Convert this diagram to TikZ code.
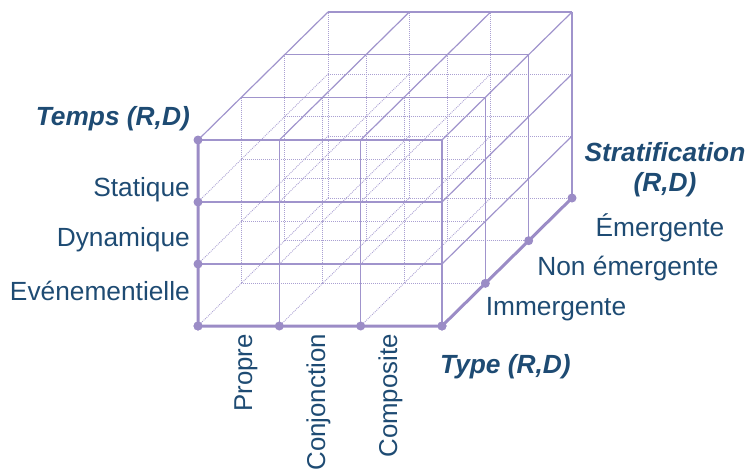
\documentclass[tikz,border=0pt]{standalone}
\usepackage{fontspec}
\setmainfont{Liberation Sans}
\definecolor{cubeline}{RGB}{160,148,204}
\definecolor{cubehid}{RGB}{170,160,210}
\definecolor{axiscol}{RGB}{155,140,198}
\definecolor{txt}{RGB}{30,75,115}
\begin{document}
\begin{tikzpicture}[x=1pt,y=-1pt,
  surf/.style={draw=cubeline,line width=1.2pt},
  hid/.style={draw=cubehid,line width=0.9pt,dash pattern=on 0.9pt off 1.1pt},
  axisline/.style={draw=axiscol,line width=3pt,line cap=round},
  axisdot/.style={circle,fill=axiscol,inner sep=0pt,minimum size=9pt},
  lab/.style={text=txt,font=\fontsize{26.3}{30}\selectfont,inner sep=0pt},
  vlab/.style={text=txt,font=\fontsize{25.8}{30}\selectfont,inner sep=0pt},
  title/.style={lab,font=\fontsize{26.3}{30}\selectfont\bfseries\itshape}]
\useasboundingbox (0,0) rectangle (747,472);
% grid points
\foreach \i in {0,...,3}{\foreach \j in {0,...,3}{\foreach \k in {0,...,3}{
  \coordinate (p-\i-\j-\k) at ({198+\i*81.333+\k*43.333},{326-\j*62-\k*42.667});
}}}
% hidden lines first
\foreach \j in {0,...,3}{\foreach \k in {0,...,3}{
  \ifnum\k=0 \else\ifnum\j=3 \else \draw[hid] (p-0-\j-\k) -- (p-3-\j-\k);\fi\fi
}}
\foreach \i in {0,...,3}{\foreach \k in {0,...,3}{
  \ifnum\k=0 \else\ifnum\i=3 \else \draw[hid] (p-\i-0-\k) -- (p-\i-3-\k);\fi\fi
}}
\foreach \i in {0,...,3}{\foreach \j in {0,...,3}{
  \ifnum\j=3 \else\ifnum\i=3 \else \draw[hid] (p-\i-\j-0) -- (p-\i-\j-3);\fi\fi
}}
% visible surface lines
\foreach \j in {0,...,3}{\foreach \k in {0,...,3}{
  \ifnum\k=0 \draw[surf] (p-0-\j-\k) -- (p-3-\j-\k);\else\ifnum\j=3 \draw[surf] (p-0-\j-\k) -- (p-3-\j-\k);\fi\fi
}}
\foreach \i in {0,...,3}{\foreach \k in {0,...,3}{
  \ifnum\k=0 \draw[surf] (p-\i-0-\k) -- (p-\i-3-\k);\else\ifnum\i=3 \draw[surf] (p-\i-0-\k) -- (p-\i-3-\k);\fi\fi
}}
\foreach \i in {0,...,3}{\foreach \j in {0,...,3}{
  \ifnum\j=3 \draw[surf] (p-\i-\j-0) -- (p-\i-\j-3);\else\ifnum\i=3 \draw[surf] (p-\i-\j-0) -- (p-\i-\j-3);\fi\fi
}}
% axes
\draw[axisline] (p-0-3-0) -- (p-0-0-0) -- (p-3-0-0) -- (p-3-0-3);
\foreach \n in {0,...,3}{
  \node[axisdot] (dt\n) at (p-0-\n-0) {};
  \node[axisdot] (dx\n) at (p-\n-0-0) {};
  \node[axisdot] (dz\n) at (p-3-0-\n) {};
}
% labels
\node[title,anchor=base east] (temps) at (190,125) {Temps (R,D)};
\node[lab,anchor=base east] (stat) at (190,196.7) {Statique};
\node[lab,anchor=base east] (dyn) at (190,246.7) {Dynamique};
\node[lab,anchor=base east] (evt) at (190,300.7) {Evénementielle};
\node[title,anchor=base] (strat) at (665,161.7) {Stratification};
\node[title,anchor=base] (stratrd) at (665,191.5) {(R,D)};
\node[lab,anchor=base] (emer) at (660,236) {Émergente};
\node[lab,anchor=base] (nonem) at (628,275.7) {Non émergente};
\node[lab,anchor=base] (imm) at (556,315) {Immergente};
\node[title,anchor=base west] (type) at (440,373) {Type (R,D)};
\node[vlab,rotate=90,anchor=base east] (propre) at (252,334) {Propre};
\node[vlab,rotate=90,anchor=base east] (conj) at (325,334) {Conjonction};
\node[vlab,rotate=90,anchor=base east] (comp) at (397,334) {Composite};
\end{tikzpicture}
\end{document}
